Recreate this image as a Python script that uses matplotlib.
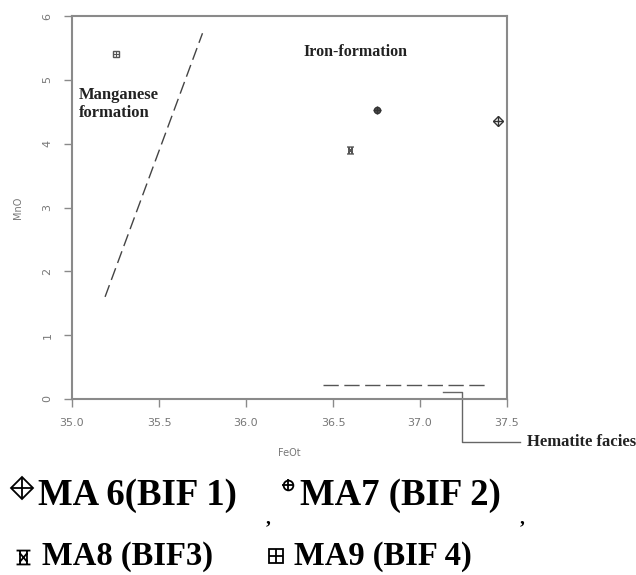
import numpy as np
import matplotlib
matplotlib.use('Agg')
import matplotlib.pyplot as plt
from matplotlib.lines import Line2D
from matplotlib.path import Path

# 数据：FeOt 与 MnO
samples = ['MA 6(BIF 1)', 'MA7 (BIF 2)', 'MA8 (BIF3)', 'MA9 (BIF 4)']
feot = [37.45, 36.75, 36.60, 35.25]
mno = [4.35, 4.53, 3.90, 5.40]

# 分界线
mn_line_x = [35.19, 35.75]
mn_line_y = [1.60, 5.73]
hem_line_x = [36.44, 37.39]
hem_line_y = [0.22, 0.22]
# Hematite facies 引线
hem_lead_x = [37.13, 37.24, 37.24, 37.575]
hem_lead_y = [0.11, 0.11, -0.67, -0.67]

xticks = [35.0, 35.5, 36.0, 36.5, 37.0, 37.5]
yticks = [0, 1, 2, 3, 4, 5, 6]

grey = '#8a8a8a'
serif = ['Liberation Serif', 'DejaVu Serif']

# 自定义 MA8 符号
ma8_path = Path(
    [(-1, 1), (1, 1), (-1, -1), (1, -1), (-0.5, 1), (-0.5, -1), (0.5, 1), (0.5, -1),
     (-0.5, 0.6), (0.5, -0.6), (0.5, 0.6), (-0.5, -0.6)],
    [Path.MOVETO, Path.LINETO] * 6)

fig = plt.figure(figsize=(6.36, 5.75), dpi=100)
ax = fig.add_axes([72 / 636, 1 - 399 / 575, 435 / 636, 383 / 575])

mc = '#333333'
# MA6 菱形+十字
ax.plot(feot[0], mno[0], marker='D', ms=5, mfc='none', mec=mc, mew=1, ls='none')
ax.plot(feot[0], mno[0], marker='+', ms=7, mec=mc, mew=1, ls='none')
# MA7 圆+十字
ax.plot(feot[1], mno[1], marker='o', ms=4.5, mfc='#555555', mec=mc, mew=1, ls='none')
ax.plot(feot[1], mno[1], marker='+', ms=6, mec=mc, mew=1, ls='none')
# MA8
ax.plot(feot[2], mno[2], marker=ma8_path, ms=5, mec='#555555', mew=1, ls='none')
# MA9 方框+十字
ax.plot(feot[3], mno[3], marker='s', ms=4.5, mfc='none', mec='#555555', mew=1, ls='none')
ax.plot(feot[3], mno[3], marker='+', ms=4.5, mec='#555555', mew=0.8, ls='none')

ax.plot(mn_line_x, mn_line_y, color='#444444', lw=1, dashes=(9, 4))
ax.plot(hem_line_x, hem_line_y, color='#555555', lw=1, dashes=(11, 4))
ax.plot(hem_lead_x, hem_lead_y, color='#666666', lw=1, clip_on=False)

ax.text(35.04, 4.62, 'Manganese\nformation', fontsize=12, fontweight='bold',
        family=serif, color='#222222', va='center', ha='left', linespacing=1.1)
ax.text(36.33, 5.43, 'Iron-formation', fontsize=11.5, fontweight='bold',
        family=serif, color='#222222', va='center', ha='left')
ax.text(37.615, -0.67, 'Hematite facies', fontsize=12, fontweight='bold',
        family=serif, color='#222222', va='center', ha='left', clip_on=False)

ax.set_xlim(35.0, 37.5)
ax.set_ylim(0, 6)
ax.set_xticks(xticks)
ax.set_xticklabels([f'{v:.1f}' for v in xticks])
ax.set_yticks(yticks)
ax.set_yticklabels([str(v) for v in yticks], rotation=90, va='center')
ax.tick_params(direction='out', length=6, width=1, colors=grey, labelsize=8,
               labelcolor='#777777', pad=8)
for sp in ax.spines.values():
    sp.set_color(grey)
    sp.set_linewidth(1.5)
ax.set_xlabel('FeOt', fontsize=7, color='#777777', labelpad=14)
ax.set_ylabel('MnO', fontsize=7, color='#777777', labelpad=14)

# 图例（图下方文字）
fs1 = 26.5
fs2 = 23.5
fig.text(38 / 636, 1 - 505 / 575, samples[0], fontsize=fs1, fontweight='bold', family=serif, va='baseline')
fig.text(300 / 636, 1 - 505 / 575, samples[1], fontsize=fs1, fontweight='bold', family=serif, va='baseline')
fig.text(266 / 636, 1 - 523 / 575, ',', fontsize=14, fontweight='bold', family=serif, va='baseline')
fig.text(520 / 636, 1 - 523 / 575, ',', fontsize=14, fontweight='bold', family=serif, va='baseline')
fig.text(42 / 636, 1 - 565 / 575, samples[2], fontsize=fs2, fontweight='bold', family=serif, va='baseline')
fig.text(294 / 636, 1 - 565 / 575, samples[3], fontsize=fs2, fontweight='bold', family=serif, va='baseline')

leg = [
    (22, 488, 'D', 11, '+', 14),
    (288, 485, 'o', 7, '+', 9),
    (276, 556, 's', 10, '+', 10),
]
for px, py, m1, s1, m2, s2 in leg:
    xx, yy = px / 636, 1 - py / 575
    fig.add_artist(Line2D([xx], [yy], marker=m1, ms=s1, mfc='none', mec='black', mew=1.3,
                          transform=fig.transFigure))
    fig.add_artist(Line2D([xx], [yy], marker=m2, ms=s2, mec='black', mew=1.3,
                          transform=fig.transFigure))
fig.add_artist(Line2D([23 / 636], [1 - 557 / 575], marker=ma8_path, ms=10, mec='black', mew=1.3,
                      transform=fig.transFigure))

fig.savefig('out.png', dpi=100, facecolor='white')
